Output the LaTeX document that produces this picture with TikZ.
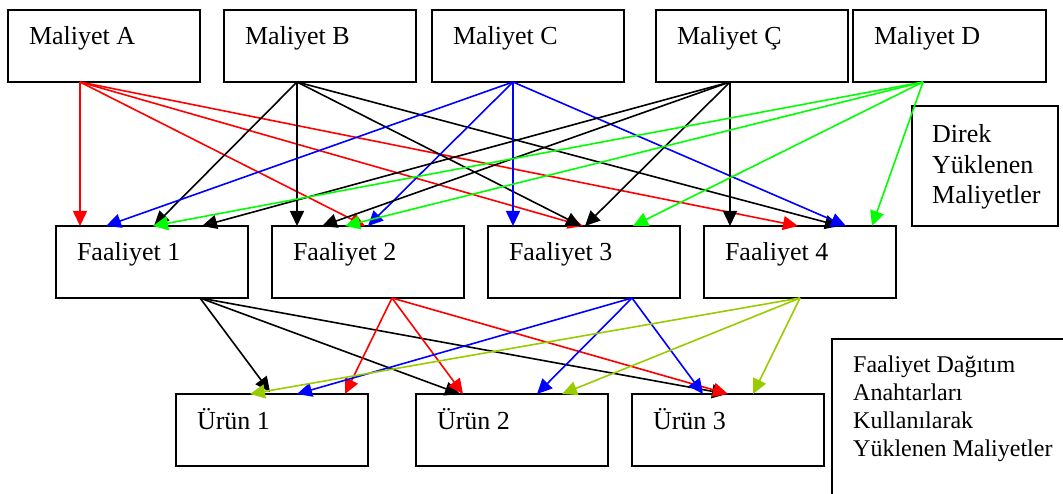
\documentclass[tikz,border=0pt]{standalone}
\usepackage{fontspec}
\setmainfont{Liberation Serif}
\usetikzlibrary{arrows.meta}
\definecolor{costgreen}{RGB}{0,255,0}
\definecolor{costblue}{RGB}{0,0,255}
\definecolor{costred}{RGB}{255,0,0}
\definecolor{keyolive}{RGB}{153,204,0}

\begin{document}
\begin{tikzpicture}[x=1pt,y=-1pt,
  box/.style={draw, line width=1.9pt, anchor=north west, inner sep=0pt, outer sep=0pt,
              minimum width=192pt, minimum height=72pt},
  txt/.style={anchor=base west, inner sep=0pt, outer sep=0pt, xshift=21pt, yshift=-35pt,
              font=\fontsize{26}{30}\selectfont},
  link/.style={line width=1.6pt, -{Triangle[length=15pt,width=14pt]}},
]
\clip (0,0) rectangle (1063,494);

% cost pools
\node[box, label={[txt]north west:Maliyet A}] (ma) at (8,10) {};
\node[box, label={[txt]north west:Maliyet B}] (mb) at (224,10) {};
\node[box, label={[txt]north west:Maliyet C}] (mc) at (432,10) {};
\node[box, label={[txt]north west:Maliyet Ç}] (mcc) at (656,10) {};
\node[box, minimum width=193pt, label={[txt]north west:Maliyet D}] (md) at (853,10) {};

% activities
\node[box, label={[txt]north west:Faaliyet 1}] (f1) at (56,226) {};
\node[box, label={[txt]north west:Faaliyet 2}] (f2) at (272,226) {};
\node[box, label={[txt]north west:Faaliyet 3}] (f3) at (488,226) {};
\node[box, label={[txt]north west:Faaliyet 4}] (f4) at (704,226) {};

% products
\node[box, label={[txt]north west:Ürün 1}] (u1) at (176,394) {};
\node[box, label={[txt]north west:Ürün 2}] (u2) at (416,394) {};
\node[box, label={[txt]north west:Ürün 3}] (u3) at (632,394) {};

% legend boxes
\node[box, minimum width=146pt, minimum height=120pt,
      label={[anchor=north west, inner sep=0pt, xshift=20pt, yshift=-18.5pt, align=left,
              font=\fontsize{26}{30.5}\selectfont]north west:Direk\\Yüklenen\\Maliyetler}]
      (direct) at (912,106) {};
\node[box, minimum width=250pt, minimum height=180pt,
      label={[anchor=north west, inner sep=0pt, xshift=21pt, yshift=-16.5pt, align=left,
              font=\fontsize{24}{28}\selectfont]north west:Faaliyet Dağıtım\\Anahtarları\\Kullanılarak\\Yüklenen Maliyetler}]
      (keyed) at (832,339) {};

% Maliyet A
\draw[link, costred] ([xshift=72pt]ma.south west) -- ([xshift=24pt]f1.north west);
\draw[link, costred] ([xshift=72pt]ma.south west) -- ([xshift=93pt]f2.north west);
\draw[link, costred] ([xshift=72pt]ma.south west) -- ([xshift=95pt]f3.north west);
\draw[link, costred] ([xshift=72pt]ma.south west) -- ([xshift=94pt]f4.north west);
% Maliyet B
\draw[link, black] ([xshift=73pt]mb.south west) -- ([xshift=98pt]f1.north west);
\draw[link, black] ([xshift=73pt]mb.south west) -- ([xshift=25pt]f2.north west);
\draw[link, black] ([xshift=73pt]mb.south west) -- ([xshift=93pt]f3.north west);
\draw[link, black] ([xshift=73pt]mb.south west) -- ([xshift=136pt]f4.north west);
% Maliyet C
\draw[link, costblue] ([xshift=81pt]mc.south west) -- ([xshift=50pt]f1.north west);
\draw[link, costblue] ([xshift=81pt]mc.south west) -- ([xshift=96pt]f2.north west);
\draw[link, costblue] ([xshift=81pt]mc.south west) -- ([xshift=25pt]f3.north west);
\draw[link, costblue] ([xshift=81pt]mc.south west) -- ([xshift=142pt]f4.north west);
% Maliyet Ç
\draw[link, black] ([xshift=74pt]mcc.south west) -- ([xshift=146pt]f1.north west);
\draw[link, black] ([xshift=74pt]mcc.south west) -- ([xshift=50pt]f2.north west);
\draw[link, black] ([xshift=74pt]mcc.south west) -- ([xshift=97pt]f3.north west);
\draw[link, black] ([xshift=74pt]mcc.south west) -- ([xshift=26pt]f4.north west);
% Maliyet D
\draw[link, costgreen] ([xshift=70pt]md.south west) -- ([xshift=97pt]f1.north west);
\draw[link, costgreen] ([xshift=70pt]md.south west) -- ([xshift=73pt]f2.north west);
\draw[link, costgreen] ([xshift=70pt]md.south west) -- ([xshift=145pt]f3.north west);
\draw[link, costgreen] ([xshift=70pt]md.south west) -- ([xshift=168pt]f4.north west);

% Faaliyet 1
\draw[link, black] ([xshift=144pt]f1.south west) -- ([xshift=94pt,yshift=2pt]u1.north west);
\draw[link, black] ([xshift=144pt]f1.south west) -- ([xshift=44pt]u2.north west);
\draw[link, black] ([xshift=144pt]f1.south west) -- ([xshift=95pt]u3.north west);
% Faaliyet 2
\draw[link, costred] ([xshift=120pt]f2.south west) -- ([xshift=169pt]u1.north west);
\draw[link, costred] ([xshift=120pt]f2.south west) -- ([xshift=47pt]u2.north west);
\draw[link, costred] ([xshift=120pt]f2.south west) -- ([xshift=96pt]u3.north west);
% Faaliyet 3
\draw[link, costblue] ([xshift=144pt]f3.south west) -- ([xshift=121pt]u1.north west);
\draw[link, costblue] ([xshift=144pt]f3.south west) -- ([xshift=121pt]u2.north west);
\draw[link, costblue] ([xshift=144pt]f3.south west) -- ([xshift=71pt]u3.north west);
% Faaliyet 4
\draw[link, keyolive] ([xshift=96pt]f4.south west) -- ([xshift=74pt]u1.north west);
\draw[link, keyolive] ([xshift=96pt]f4.south west) -- ([xshift=146pt]u2.north west);
\draw[link, keyolive] ([xshift=96pt]f4.south west) -- ([xshift=121pt]u3.north west);
\end{tikzpicture}
\end{document}
